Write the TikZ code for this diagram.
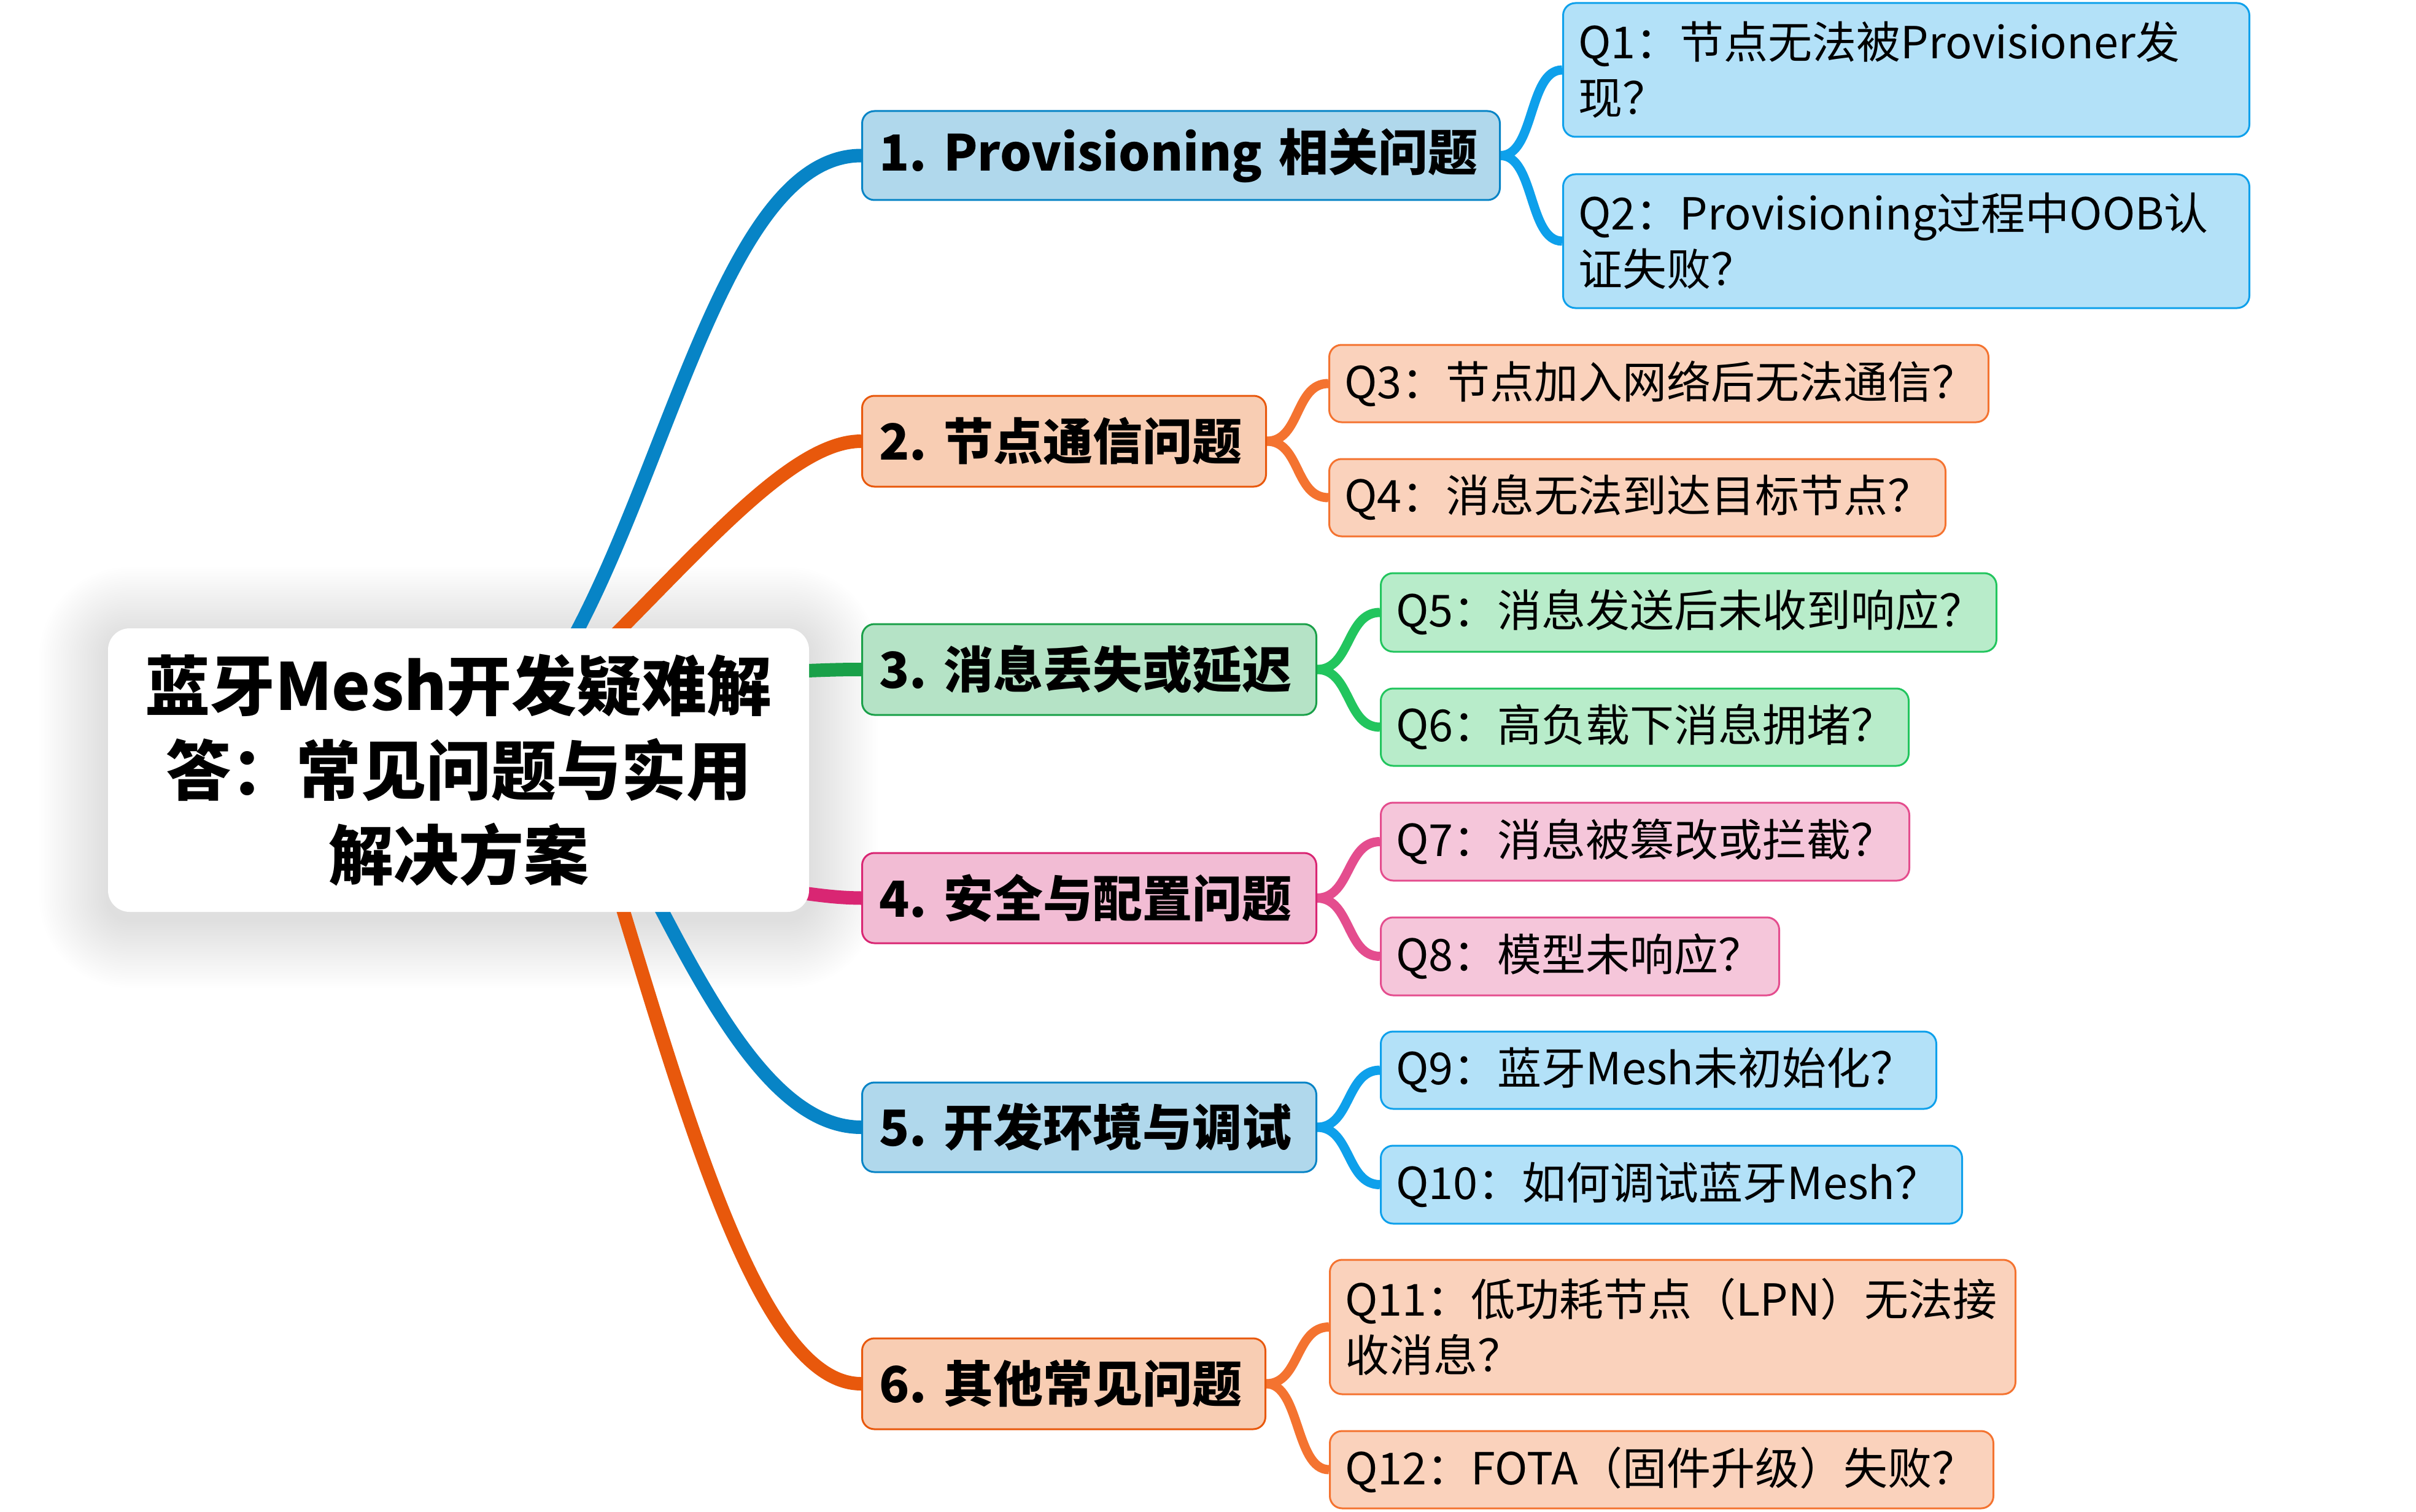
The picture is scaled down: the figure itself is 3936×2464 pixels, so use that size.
\documentclass[tikz,border=0pt]{standalone}
\usepackage{fontspec}
\setmainfont{Noto Sans CJK SC}
\pgfdeclarelayer{shadowlayer}
\pgfdeclarelayer{background}
\pgfsetlayers{shadowlayer,background,main}
\definecolor{blueD}{HTML}{0784C6}
\definecolor{blueF}{HTML}{B0D8EC}
\definecolor{blueL}{HTML}{0EA0EB}
\definecolor{blueSF}{HTML}{B3E1F8}
\definecolor{orgD}{HTML}{E8580C}
\definecolor{orgF}{HTML}{F8CDB3}
\definecolor{orgL}{HTML}{F47330}
\definecolor{orgSF}{HTML}{FAD2BC}
\definecolor{grnD}{HTML}{1AA049}
\definecolor{grnF}{HTML}{B5E3C6}
\definecolor{grnL}{HTML}{22C55E}
\definecolor{grnSF}{HTML}{B8ECCA}
\definecolor{pnkD}{HTML}{D92673}
\definecolor{pnkF}{HTML}{F2BCD4}
\definecolor{pnkL}{HTML}{E44D8E}
\definecolor{pnkSF}{HTML}{F5C6DA}
\begin{document}
\begin{tikzpicture}[x=1pt,y=-1pt,
  rootbox/.style={fill=white, rounded corners=35pt, minimum width=1142pt, minimum height=462pt,
    align=center, inner sep=0pt, font=\bfseries\fontsize{106}{138}\selectfont},
  topic/.style={rounded corners=20pt, line width=3pt, anchor=west, align=left,
    inner xsep=28pt, inner ysep=0pt, font=\bfseries\fontsize{81}{100}\selectfont},
  sub/.style={rounded corners=20pt, line width=3pt, anchor=west, align=left,
    inner xsep=25pt, inner ysep=0pt, font=\fontsize{72}{91}\selectfont},
  rootconn/.style={line width=22pt},
  subconn/.style={line width=15pt},
  bluetopic/.style={topic, draw=blueD, fill=blueF},
  orgtopic/.style={topic, draw=orgD, fill=orgF},
  grntopic/.style={topic, draw=grnD, fill=grnF},
  pnktopic/.style={topic, draw=pnkD, fill=pnkF},
  bluesub/.style={sub, draw=blueL, fill=blueSF},
  orgsub/.style={sub, draw=orgL, fill=orgSF},
  grnsub/.style={sub, draw=grnL, fill=grnSF},
  pnksub/.style={sub, draw=pnkL, fill=pnkSF}
]
\useasboundingbox (0,0) rectangle (3936,2464);

% root
\node[rootbox] (root) at (747,1255) {蓝牙Mesh开发疑难解\\答：常见问题与实用\\解决方案};

% level 1
\node[bluetopic, text width=983pt, minimum height=145pt] (b1) at (1403,253.5) {\mbox{1.~Provisioning~相关问题}};
\node[orgtopic, text width=602pt, minimum height=148pt] (b2) at (1403,719) {\mbox{2.~节点通信问题}};
\node[grntopic, text width=684pt, minimum height=148pt] (b3) at (1403,1091) {\mbox{3.~消息丢失或延迟}};
\node[pnktopic, text width=684pt, minimum height=147pt] (b4) at (1403,1463.5) {\mbox{4.~安全与配置问题}};
\node[bluetopic, text width=684pt, minimum height=146pt] (b5) at (1403,1837) {\mbox{5.~开发环境与调试}};
\node[orgtopic, text width=601pt, minimum height=148pt] (b6) at (1403,2255) {\mbox{6.~其他常见问题}};

% level 2
\node[bluesub, text width=1068pt, minimum height=218pt] (q1) at (2545,114) {Q1：节点无法被Provisioner发\\现？};
\node[bluesub, text width=1068pt, minimum height=218pt] (q2) at (2545,393) {Q2：Provisioning过程中OOB认\\证失败？};
\node[orgsub, text width=1024pt, minimum height=126pt] (q3) at (2164,625) {Q3：节点加入网络后无法通信？};
\node[orgsub, text width=954pt, minimum height=126pt] (q4) at (2164,811) {Q4：消息无法到达目标节点？};
\node[grnsub, text width=953pt, minimum height=128pt] (q5) at (2248,998) {Q5：消息发送后未收到响应？};
\node[grnsub, text width=810pt, minimum height=126pt] (q6) at (2248,1185) {Q6：高负载下消息拥堵？};
\node[pnksub, text width=811pt, minimum height=127pt] (q7) at (2248,1371.5) {Q7：消息被篡改或拦截？};
\node[pnksub, text width=599pt, minimum height=127pt] (q8) at (2248,1558.5) {Q8：模型未响应？};
\node[bluesub, text width=855pt, minimum height=126pt] (q9) at (2248,1744) {Q9：蓝牙Mesh未初始化？};
\node[bluesub, text width=897pt, minimum height=127pt] (q10) at (2248,1930.5) {Q10：如何调试蓝牙Mesh？};
\node[orgsub, text width=1067pt, minimum height=219pt] (q11) at (2165,2162.5) {Q11：低功耗节点（LPN）无法接\\收消息？};
\node[orgsub, text width=1031pt, minimum height=126pt] (q12) at (2165,2395) {Q12：FOTA（固件升级）失败？};

\begin{pgfonlayer}{shadowlayer}
\fill[white] (0,0) rectangle (3936,2464);
\foreach \i in {1,...,32}{
  \fill[black, opacity=0.0026, rounded corners=35pt+3.5pt*\i]
    ([shift={(-3.5*\i,3.5*\i+12)}]root.south west) rectangle ([shift={(3.5*\i,-3.5*\i+12)}]root.north east);
}
\end{pgfonlayer}

\begin{pgfonlayer}{background}
\draw[rootconn, blueD] (root.center) .. controls (1050,1100) and (1120,254) .. (b1.west);
\draw[rootconn, orgD] ([shift={(169,-136)}]root.center) .. controls (1116,929) and (1280,719) .. (b2.west);
\draw[rootconn, grnD] ([shift={(503,-160)}]root.center) .. controls (1330,1093) and (1350,1091) .. (b3.west);
\draw[rootconn, pnkD] ([shift={(503,193)}]root.center) .. controls (1320,1456) and (1350,1463) .. (b4.west);
\draw[rootconn, blueD] ([shift={(281,131)}]root.center) .. controls (1141,1606) and (1253,1837) .. (b5.west);
\draw[rootconn, orgD] ([shift={(223,81)}]root.center) .. controls (1110,1786) and (1230,2255) .. (b6.west);

\draw[subconn, blueL] (b1.east) .. controls +(55,0) and +(-55,0) .. (q1.west);
\draw[subconn, blueL] (b1.east) .. controls +(55,0) and +(-55,0) .. (q2.west);
\draw[subconn, orgL] (b2.east) .. controls +(55,0) and +(-55,0) .. (q3.west);
\draw[subconn, orgL] (b2.east) .. controls +(55,0) and +(-55,0) .. (q4.west);
\draw[subconn, grnL] (b3.east) .. controls +(55,0) and +(-55,0) .. (q5.west);
\draw[subconn, grnL] (b3.east) .. controls +(55,0) and +(-55,0) .. (q6.west);
\draw[subconn, pnkL] (b4.east) .. controls +(55,0) and +(-55,0) .. (q7.west);
\draw[subconn, pnkL] (b4.east) .. controls +(55,0) and +(-55,0) .. (q8.west);
\draw[subconn, blueL] (b5.east) .. controls +(55,0) and +(-55,0) .. (q9.west);
\draw[subconn, blueL] (b5.east) .. controls +(55,0) and +(-55,0) .. (q10.west);
\draw[subconn, orgL] (b6.east) .. controls +(55,0) and +(-55,0) .. (q11.west);
\draw[subconn, orgL] (b6.east) .. controls +(55,0) and +(-55,0) .. (q12.west);
\end{pgfonlayer}
\end{tikzpicture}
\end{document}
